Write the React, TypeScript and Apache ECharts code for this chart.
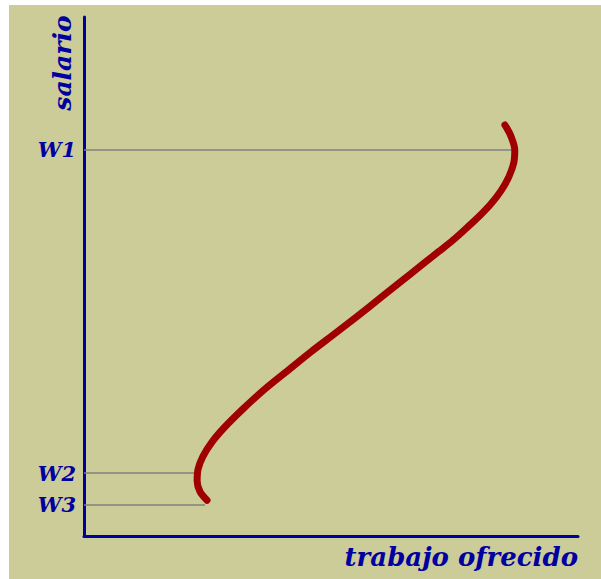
import React, { useEffect, useRef } from "react";
import * as echarts from "echarts";

// Labour supply curve (trabajo ofrecido vs salario)
const curveX = [24.9, 23.5, 22.9, 23.1, 24.1, 25.9, 28.5, 32.2, 36.6, 41.4, 46.1, 50.8, 55.4, 59.9, 64.1, 68.1, 71.8, 74.7, 77.4, 80.0, 82.4, 84.4, 86.0, 87.0, 87.2, 86.4, 85.2];
const curveY = [6.9, 8.5, 10.6, 12.9, 15.4, 18.1, 21.0, 24.5, 28.3, 32.0, 35.6, 39.0, 42.4, 45.8, 49.0, 52.0, 54.8, 57.0, 59.3, 61.6, 64.0, 66.5, 69.2, 71.9, 74.4, 77.1, 79.2];

// Wage levels and where their guide lines end on the curve
const wageNames = ["W1", "W2", "W3"];
const wageValues = [74.4, 12.1, 6.0];
const wageLineEnds = [87.2, 22.5, 24.5];

const xAxisName = "trabajo ofrecido";
const yAxisName = "salario";

export default function App() {
  const ref = useRef<HTMLDivElement>(null);
  useEffect(() => {
    if (!ref.current) return;
    const chart = echarts.init(ref.current, null, { renderer: "svg" });
    const blue = "#0000A0";
    const labelFont = {
      fontFamily: "DejaVu Serif",
      fontStyle: "italic" as const,
      fontWeight: "bold" as const,
      color: blue,
    };
    chart.setOption({
      animation: false,
      backgroundColor: "#CCCC99",
      grid: { left: 84, top: 17, right: 23, bottom: 43 },
      xAxis: {
        type: "value",
        min: 0,
        max: 100,
        axisLine: { show: true, lineStyle: { color: blue, width: 3 } },
        axisTick: { show: false },
        axisLabel: { show: false },
        splitLine: { show: false },
      },
      yAxis: {
        type: "value",
        min: 0,
        max: 100,
        axisLine: { show: true, lineStyle: { color: blue, width: 3 } },
        axisTick: { show: false },
        splitLine: { show: false },
        axisLabel: {
          show: true,
          customValues: wageValues,
          margin: 8,
          fontSize: 21,
          ...labelFont,
          formatter: (v: number) => {
            const i = wageValues.findIndex((w) => Math.abs(w - v) < 0.01);
            return i >= 0 ? wageNames[i] : "";
          },
        },
      },
      graphic: [
        { type: "rect", shape: { x: 0, y: 0, width: 601, height: 5 }, style: { fill: "#ffffff" }, silent: true },
        { type: "rect", shape: { x: 0, y: 0, width: 9, height: 579 }, style: { fill: "#ffffff" }, silent: true },
        {
          type: "text",
          x: 62,
          y: 63,
          rotation: Math.PI / 2,
          style: {
            text: yAxisName,
            fontSize: 25,
            fontFamily: "DejaVu Serif",
            fontStyle: "italic",
            fontWeight: "bold",
            fill: blue,
            align: "center",
            verticalAlign: "middle",
          },
        },
        {
          type: "text",
          x: 578,
          y: 557,
          style: {
            text: xAxisName,
            fontSize: 26,
            fontFamily: "DejaVu Serif",
            fontStyle: "italic",
            fontWeight: "bold",
            fill: blue,
            align: "right",
            verticalAlign: "middle",
          },
        },
      ],
      series: [
        {
          type: "line",
          data: curveX.map((x, i) => [x, curveY[i]]),
          smooth: 0.3,
          symbol: "none",
          lineStyle: { color: "#A00000", width: 7, cap: "round", join: "round" },
          z: 5,
          markLine: {
            silent: true,
            symbol: "none",
            label: { show: false },
            lineStyle: { color: "#808080", width: 1.5, type: "solid" },
            data: wageValues.map((w, i) => [
              { coord: [0, w] },
              { coord: [wageLineEnds[i], w] },
            ]),
          },
        },
      ],
    });
    return () => chart.dispose();
  }, []);
  return (
    <div
      ref={ref}
      style={{ position: "absolute", left: 0, top: 0, width: 601, height: 579 }}
    />
  );
}
